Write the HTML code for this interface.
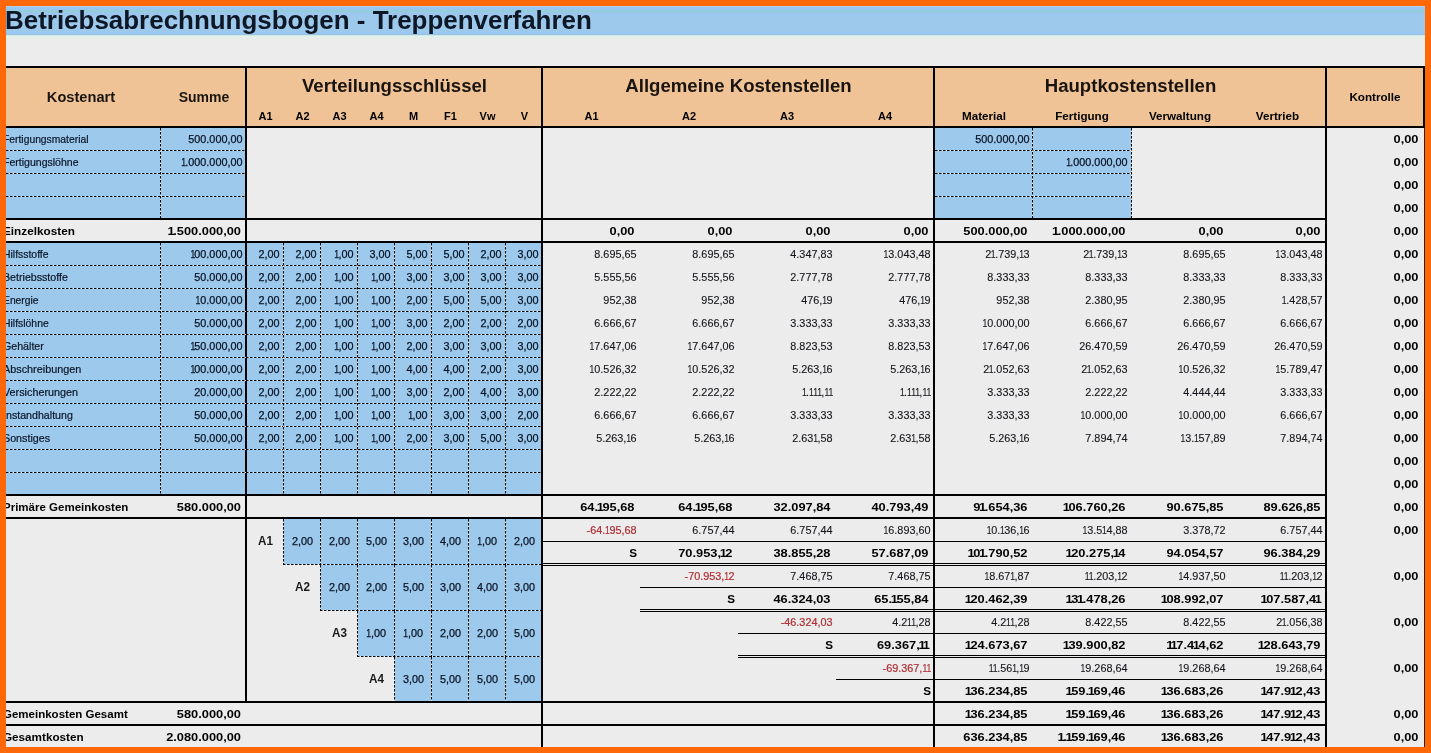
<!DOCTYPE html>
<html><head><meta charset="utf-8"><title>Betriebsabrechnungsbogen - Treppenverfahren</title>
<style>
html,body{margin:0;padding:0}
body{width:1431px;height:753px;position:relative;overflow:hidden;background:#ececec;
 font-family:"Liberation Sans",sans-serif;color:#0c0c10}
.L{position:absolute;left:0;top:0;width:1431px;height:753px}
.L div{position:absolute}
.T{will-change:transform}
.hd{height:1px;background:repeating-linear-gradient(90deg,#000 0,#000 2px,#e6f2fb 3px,#e6f2fb 3.6px,#000 4px)}
.vd{width:1px;background:repeating-linear-gradient(180deg,#000 0,#000 2px,#e6f2fb 3px,#e6f2fb 3.6px,#000 4px)}
.t{white-space:nowrap;overflow:visible;font-size:10.6px}
.c{text-align:center;transform-origin:50% 50%}
.r{text-align:right;transform-origin:100% 50%}
.l{text-align:left;transform-origin:0 50%}
.n{color:#0b1426;-webkit-text-stroke:.25px #0b1426;transform:scaleX(1.0222)}
.n i{font-style:normal;display:inline-block;transform:scaleX(.8);margin:0 -1.15px 0 -.75px}
.lab{transform:scaleX(.97);color:#0b1426;-webkit-text-stroke:.2px #0b1426}
.bn{font-weight:bold;transform:scaleX(1.2100);color:#000}
.bn i{font-style:normal;margin:0 -1.2px 0 -1.1px}
.bt{font-weight:bold;transform:scaleX(1.1000);color:#000}
.bl{font-weight:bold;transform:scaleX(1.055);color:#000}
.bk{font-weight:bold;color:#000;transform:scaleX(1.0377)}
.g{color:#15161b;-webkit-text-stroke:.12px #15161b}
.red{color:#ae2f34;-webkit-text-stroke:.2px #ae2f34}
.h14{font-weight:bold;font-size:14px;color:#1a1410}
.h18{font-weight:bold;font-size:18px;color:#1a1410;transform:scaleX(1.033)}
.h12{font-weight:bold;font-size:12.3px;color:#1a1a1a;transform:scaleX(.95)}
.title{left:5px;top:6.5px;height:29px;line-height:27px;font-size:26px;font-weight:bold;color:#0e1726;white-space:nowrap;
 transform-origin:0 50%;transform:scaleX(.998)}
</style></head>
<body>
<div class="L">
<div style="left:6px;top:6px;width:1419px;height:29px;background:#9cc9ec;background:linear-gradient(180deg,#d6d8d4 0,#98c7f6 1px,#98c7f6 3.5px,#92cdda 4.2px,#92cdda 6px,#9ec5f0 7px,#9dc7ee 9px,#9cc9ec 11px,#9cc9ec 25.5px,#99c7f3 26.5px,#99c7f3 27.5px,#9dc4dd 28.5px,#9dc4dd 29px)"></div>
<div style="left:6px;top:35px;width:1419px;height:5px;background:#ececec;background:linear-gradient(180deg,#c4dde4 0,#e1f2ee 1px,#e3f0ea 2.5px,#e9ece8 4px,#ececec 5px)"></div>
<div style="left:6px;top:68px;width:1418px;height:58px;background:#efc396;"></div>
<div style="left:6px;top:128px;width:239px;height:90px;background:#9cc9ec;"></div>
<div style="left:935px;top:128px;width:197px;height:90px;background:#9cc9ec;"></div>
<div style="left:6px;top:243px;width:535px;height:251px;background:#9cc9ec;"></div>
<div style="left:284px;top:519px;width:257px;height:46px;background:#9cc9ec;"></div>
<div style="left:321px;top:565px;width:220px;height:46px;background:#9cc9ec;"></div>
<div style="left:358px;top:611px;width:183px;height:46px;background:#9cc9ec;"></div>
<div style="left:395px;top:657px;width:146px;height:44px;background:#9cc9ec;"></div>
<div style="left:6px;top:66px;width:1419px;height:2px;background:#000;"></div>
<div style="left:6px;top:126px;width:1419px;height:2px;background:#000;"></div>
<div style="left:1423px;top:66px;width:2px;height:62px;background:#000;"></div>
<div style="left:245px;top:66px;width:2px;height:637px;background:#000;"></div>
<div style="left:541px;top:66px;width:2px;height:681px;background:#000;"></div>
<div style="left:933px;top:66px;width:2px;height:681px;background:#000;"></div>
<div style="left:1325px;top:66px;width:2px;height:681px;background:#000;"></div>
<div style="left:6px;top:218px;width:1321px;height:2px;background:#000;"></div>
<div style="left:6px;top:241px;width:1321px;height:2px;background:#000;"></div>
<div style="left:6px;top:494px;width:1321px;height:2px;background:#000;"></div>
<div style="left:6px;top:517px;width:1321px;height:2px;background:#000;"></div>
<div style="left:6px;top:701px;width:1321px;height:2px;background:#000;"></div>
<div style="left:6px;top:724px;width:1321px;height:2px;background:#000;"></div>
<div class="hd" style="left:6px;top:150px;width:239px"></div>
<div class="hd" style="left:935px;top:150px;width:197px"></div>
<div class="hd" style="left:6px;top:173px;width:239px"></div>
<div class="hd" style="left:935px;top:173px;width:197px"></div>
<div class="hd" style="left:6px;top:196px;width:239px"></div>
<div class="hd" style="left:935px;top:196px;width:197px"></div>
<div class="vd" style="left:160px;top:128px;height:90px"></div>
<div class="vd" style="left:1032px;top:128px;height:90px"></div>
<div class="vd" style="left:1131px;top:128px;height:90px"></div>
<div class="hd" style="left:6px;top:265px;width:535px"></div>
<div class="hd" style="left:6px;top:288px;width:535px"></div>
<div class="hd" style="left:6px;top:311px;width:535px"></div>
<div class="hd" style="left:6px;top:334px;width:535px"></div>
<div class="hd" style="left:6px;top:357px;width:535px"></div>
<div class="hd" style="left:6px;top:380px;width:535px"></div>
<div class="hd" style="left:6px;top:403px;width:535px"></div>
<div class="hd" style="left:6px;top:426px;width:535px"></div>
<div class="hd" style="left:6px;top:449px;width:535px"></div>
<div class="hd" style="left:6px;top:472px;width:535px"></div>
<div class="vd" style="left:160px;top:243px;height:251px"></div>
<div class="vd" style="left:283px;top:243px;height:251px"></div>
<div class="vd" style="left:320px;top:243px;height:251px"></div>
<div class="vd" style="left:357px;top:243px;height:251px"></div>
<div class="vd" style="left:394px;top:243px;height:251px"></div>
<div class="vd" style="left:431px;top:243px;height:251px"></div>
<div class="vd" style="left:468px;top:243px;height:251px"></div>
<div class="vd" style="left:505px;top:243px;height:251px"></div>
<div class="hd" style="left:283px;top:564px;width:258px"></div>
<div class="vd" style="left:283px;top:519px;height:46px"></div>
<div class="vd" style="left:320px;top:519px;height:46px"></div>
<div class="vd" style="left:357px;top:519px;height:46px"></div>
<div class="vd" style="left:394px;top:519px;height:46px"></div>
<div class="vd" style="left:431px;top:519px;height:46px"></div>
<div class="vd" style="left:468px;top:519px;height:46px"></div>
<div class="vd" style="left:505px;top:519px;height:46px"></div>
<div class="hd" style="left:320px;top:610px;width:221px"></div>
<div class="vd" style="left:320px;top:565px;height:46px"></div>
<div class="vd" style="left:357px;top:565px;height:46px"></div>
<div class="vd" style="left:394px;top:565px;height:46px"></div>
<div class="vd" style="left:431px;top:565px;height:46px"></div>
<div class="vd" style="left:468px;top:565px;height:46px"></div>
<div class="vd" style="left:505px;top:565px;height:46px"></div>
<div class="hd" style="left:357px;top:656px;width:184px"></div>
<div class="vd" style="left:357px;top:611px;height:46px"></div>
<div class="vd" style="left:394px;top:611px;height:46px"></div>
<div class="vd" style="left:431px;top:611px;height:46px"></div>
<div class="vd" style="left:468px;top:611px;height:46px"></div>
<div class="vd" style="left:505px;top:611px;height:46px"></div>
<div class="vd" style="left:394px;top:657px;height:44px"></div>
<div class="vd" style="left:431px;top:657px;height:44px"></div>
<div class="vd" style="left:468px;top:657px;height:44px"></div>
<div class="vd" style="left:505px;top:657px;height:44px"></div>
<div style="left:543px;top:541px;width:782px;height:1px;background:#000;"></div>
<div style="left:543px;top:563px;width:782px;height:1px;background:#000;"></div>
<div style="left:543px;top:565px;width:782px;height:1px;background:#000;"></div>
<div style="left:640px;top:587px;width:685px;height:1px;background:#000;"></div>
<div style="left:640px;top:609px;width:685px;height:1px;background:#000;"></div>
<div style="left:640px;top:611px;width:685px;height:1px;background:#000;"></div>
<div style="left:738px;top:633px;width:587px;height:1px;background:#000;"></div>
<div style="left:738px;top:655px;width:587px;height:1px;background:#000;"></div>
<div style="left:738px;top:657px;width:587px;height:1px;background:#000;"></div>
<div style="left:836px;top:679px;width:489px;height:1px;background:#000;"></div>
<div style="left:1424px;top:128px;width:1px;height:620px;background:#3a1c0a;"></div>
</div>
<div class="L T">
<div class="title">Betriebsabrechnungsbogen - Treppenverfahren</div>
<div class="t h14 c" style="left:4px;top:86px;width:154px;height:22px;line-height:22px;transform:scaleX(1.045)">Kostenart</div>
<div class="t h14 c" style="left:162px;top:86px;width:84px;height:22px;line-height:22px;">Summe</div>
<div class="t h18 c" style="left:247px;top:74px;width:295px;height:24px;line-height:24px;">Verteilungsschlüssel</div>
<div class="t h18 c" style="left:543px;top:74px;width:391px;height:24px;line-height:24px;">Allgemeine Kostenstellen</div>
<div class="t h18 c" style="left:935px;top:74px;width:391px;height:24px;line-height:24px;">Hauptkostenstellen</div>
<div class="t bt c" style="left:1327px;top:86px;width:96px;height:22px;line-height:22px;">Kontrolle</div>
<div class="t bk c" style="left:246.5px;top:105px;width:37px;height:22px;line-height:22px;">A1</div>
<div class="t bk c" style="left:283.5px;top:105px;width:37px;height:22px;line-height:22px;">A2</div>
<div class="t bk c" style="left:320.5px;top:105px;width:37px;height:22px;line-height:22px;">A3</div>
<div class="t bk c" style="left:357.5px;top:105px;width:37px;height:22px;line-height:22px;">A4</div>
<div class="t bk c" style="left:394.5px;top:105px;width:37px;height:22px;line-height:22px;">M</div>
<div class="t bk c" style="left:431.5px;top:105px;width:37px;height:22px;line-height:22px;">F1</div>
<div class="t bk c" style="left:468.5px;top:105px;width:37px;height:22px;line-height:22px;">Vw</div>
<div class="t bk c" style="left:505.5px;top:105px;width:37px;height:22px;line-height:22px;">V</div>
<div class="t bk c" style="left:543px;top:105px;width:97px;height:22px;line-height:22px;">A1</div>
<div class="t bk c" style="left:640px;top:105px;width:98px;height:22px;line-height:22px;">A2</div>
<div class="t bk c" style="left:738px;top:105px;width:98px;height:22px;line-height:22px;">A3</div>
<div class="t bk c" style="left:836px;top:105px;width:98px;height:22px;line-height:22px;">A4</div>
<div class="t bt c" style="left:935px;top:105px;width:98px;height:22px;line-height:22px;">Material</div>
<div class="t bt c" style="left:1033px;top:105px;width:98px;height:22px;line-height:22px;">Fertigung</div>
<div class="t bt c" style="left:1131px;top:105px;width:98px;height:22px;line-height:22px;">Verwaltung</div>
<div class="t bt c" style="left:1229px;top:105px;width:97px;height:22px;line-height:22px;">Vertrieb</div>
<div class="t lab l" style="left:3px;top:128px;width:240px;height:23px;line-height:23px;transform:scaleX(0.9744)">Fertigungsmaterial</div>
<div class="t n r" style="left:100px;top:128px;width:142.5px;height:23px;line-height:23px;">500.000,00</div>
<div class="t n r" style="left:915px;top:128px;width:114.5px;height:23px;line-height:23px;">500.000,00</div>
<div class="t lab l" style="left:3px;top:151px;width:240px;height:23px;line-height:23px;transform:scaleX(0.9942)">Fertigungslöhne</div>
<div class="t n r" style="left:100px;top:151px;width:142.5px;height:23px;line-height:23px;"><i>1</i>.000.000,00</div>
<div class="t n r" style="left:1013px;top:151px;width:114.5px;height:23px;line-height:23px;"><i>1</i>.000.000,00</div>
<div class="t bl l" style="left:2.5px;top:220px;width:240px;height:23px;line-height:23px;transform:scaleX(1.1104)">Einzelkosten</div>
<div class="t bn r" style="left:100px;top:220px;width:141px;height:23px;line-height:23px;"><i>1</i>.500.000,00</div>
<div class="t bn r" style="left:523px;top:220px;width:111.5px;height:23px;line-height:23px;">0,00</div>
<div class="t bn r" style="left:620px;top:220px;width:112.5px;height:23px;line-height:23px;">0,00</div>
<div class="t bn r" style="left:718px;top:220px;width:112.5px;height:23px;line-height:23px;">0,00</div>
<div class="t bn r" style="left:816px;top:220px;width:112.5px;height:23px;line-height:23px;">0,00</div>
<div class="t bn r" style="left:915px;top:220px;width:112.5px;height:23px;line-height:23px;">500.000,00</div>
<div class="t bn r" style="left:1013px;top:220px;width:112.5px;height:23px;line-height:23px;"><i>1</i>.000.000,00</div>
<div class="t bn r" style="left:1111px;top:220px;width:112.5px;height:23px;line-height:23px;">0,00</div>
<div class="t bn r" style="left:1209px;top:220px;width:111.5px;height:23px;line-height:23px;">0,00</div>
<div class="t lab l" style="left:3px;top:243px;width:240px;height:23px;line-height:23px;transform:scaleX(0.9827)">Hilfsstoffe</div>
<div class="t n r" style="left:100px;top:243px;width:142.5px;height:23px;line-height:23px;"><i>1</i>00.000,00</div>
<div class="t n r" style="left:237px;top:243px;width:42.5px;height:23px;line-height:23px;">2,00</div>
<div class="t n r" style="left:274px;top:243px;width:42.5px;height:23px;line-height:23px;">2,00</div>
<div class="t n r" style="left:311px;top:243px;width:42.5px;height:23px;line-height:23px;"><i>1</i>,00</div>
<div class="t n r" style="left:348px;top:243px;width:42.5px;height:23px;line-height:23px;">3,00</div>
<div class="t n r" style="left:385px;top:243px;width:42.5px;height:23px;line-height:23px;">5,00</div>
<div class="t n r" style="left:422px;top:243px;width:42.5px;height:23px;line-height:23px;">5,00</div>
<div class="t n r" style="left:459px;top:243px;width:42.5px;height:23px;line-height:23px;">2,00</div>
<div class="t n r" style="left:496px;top:243px;width:42.5px;height:23px;line-height:23px;">3,00</div>
<div class="t n r g" style="left:523px;top:243px;width:113.5px;height:23px;line-height:23px;">8.695,65</div>
<div class="t n r g" style="left:620px;top:243px;width:114.5px;height:23px;line-height:23px;">8.695,65</div>
<div class="t n r g" style="left:718px;top:243px;width:114.5px;height:23px;line-height:23px;">4.347,83</div>
<div class="t n r g" style="left:816px;top:243px;width:114.5px;height:23px;line-height:23px;"><i>1</i>3.043,48</div>
<div class="t n r g" style="left:915px;top:243px;width:114.5px;height:23px;line-height:23px;">2<i>1</i>.739,<i>1</i>3</div>
<div class="t n r g" style="left:1013px;top:243px;width:114.5px;height:23px;line-height:23px;">2<i>1</i>.739,<i>1</i>3</div>
<div class="t n r g" style="left:1111px;top:243px;width:114.5px;height:23px;line-height:23px;">8.695,65</div>
<div class="t n r g" style="left:1209px;top:243px;width:113.5px;height:23px;line-height:23px;"><i>1</i>3.043,48</div>
<div class="t lab l" style="left:3px;top:266px;width:240px;height:23px;line-height:23px;transform:scaleX(1.0045)">Betriebsstoffe</div>
<div class="t n r" style="left:100px;top:266px;width:142.5px;height:23px;line-height:23px;">50.000,00</div>
<div class="t n r" style="left:237px;top:266px;width:42.5px;height:23px;line-height:23px;">2,00</div>
<div class="t n r" style="left:274px;top:266px;width:42.5px;height:23px;line-height:23px;">2,00</div>
<div class="t n r" style="left:311px;top:266px;width:42.5px;height:23px;line-height:23px;"><i>1</i>,00</div>
<div class="t n r" style="left:348px;top:266px;width:42.5px;height:23px;line-height:23px;"><i>1</i>,00</div>
<div class="t n r" style="left:385px;top:266px;width:42.5px;height:23px;line-height:23px;">3,00</div>
<div class="t n r" style="left:422px;top:266px;width:42.5px;height:23px;line-height:23px;">3,00</div>
<div class="t n r" style="left:459px;top:266px;width:42.5px;height:23px;line-height:23px;">3,00</div>
<div class="t n r" style="left:496px;top:266px;width:42.5px;height:23px;line-height:23px;">3,00</div>
<div class="t n r g" style="left:523px;top:266px;width:113.5px;height:23px;line-height:23px;">5.555,56</div>
<div class="t n r g" style="left:620px;top:266px;width:114.5px;height:23px;line-height:23px;">5.555,56</div>
<div class="t n r g" style="left:718px;top:266px;width:114.5px;height:23px;line-height:23px;">2.777,78</div>
<div class="t n r g" style="left:816px;top:266px;width:114.5px;height:23px;line-height:23px;">2.777,78</div>
<div class="t n r g" style="left:915px;top:266px;width:114.5px;height:23px;line-height:23px;">8.333,33</div>
<div class="t n r g" style="left:1013px;top:266px;width:114.5px;height:23px;line-height:23px;">8.333,33</div>
<div class="t n r g" style="left:1111px;top:266px;width:114.5px;height:23px;line-height:23px;">8.333,33</div>
<div class="t n r g" style="left:1209px;top:266px;width:113.5px;height:23px;line-height:23px;">8.333,33</div>
<div class="t lab l" style="left:3px;top:289px;width:240px;height:23px;line-height:23px;transform:scaleX(0.9734)">Energie</div>
<div class="t n r" style="left:100px;top:289px;width:142.5px;height:23px;line-height:23px;"><i>1</i>0.000,00</div>
<div class="t n r" style="left:237px;top:289px;width:42.5px;height:23px;line-height:23px;">2,00</div>
<div class="t n r" style="left:274px;top:289px;width:42.5px;height:23px;line-height:23px;">2,00</div>
<div class="t n r" style="left:311px;top:289px;width:42.5px;height:23px;line-height:23px;"><i>1</i>,00</div>
<div class="t n r" style="left:348px;top:289px;width:42.5px;height:23px;line-height:23px;"><i>1</i>,00</div>
<div class="t n r" style="left:385px;top:289px;width:42.5px;height:23px;line-height:23px;">2,00</div>
<div class="t n r" style="left:422px;top:289px;width:42.5px;height:23px;line-height:23px;">5,00</div>
<div class="t n r" style="left:459px;top:289px;width:42.5px;height:23px;line-height:23px;">5,00</div>
<div class="t n r" style="left:496px;top:289px;width:42.5px;height:23px;line-height:23px;">3,00</div>
<div class="t n r g" style="left:523px;top:289px;width:113.5px;height:23px;line-height:23px;">952,38</div>
<div class="t n r g" style="left:620px;top:289px;width:114.5px;height:23px;line-height:23px;">952,38</div>
<div class="t n r g" style="left:718px;top:289px;width:114.5px;height:23px;line-height:23px;">476,<i>1</i>9</div>
<div class="t n r g" style="left:816px;top:289px;width:114.5px;height:23px;line-height:23px;">476,<i>1</i>9</div>
<div class="t n r g" style="left:915px;top:289px;width:114.5px;height:23px;line-height:23px;">952,38</div>
<div class="t n r g" style="left:1013px;top:289px;width:114.5px;height:23px;line-height:23px;">2.380,95</div>
<div class="t n r g" style="left:1111px;top:289px;width:114.5px;height:23px;line-height:23px;">2.380,95</div>
<div class="t n r g" style="left:1209px;top:289px;width:113.5px;height:23px;line-height:23px;"><i>1</i>.428,57</div>
<div class="t lab l" style="left:3px;top:312px;width:240px;height:23px;line-height:23px;transform:scaleX(0.9827)">Hilfslöhne</div>
<div class="t n r" style="left:100px;top:312px;width:142.5px;height:23px;line-height:23px;">50.000,00</div>
<div class="t n r" style="left:237px;top:312px;width:42.5px;height:23px;line-height:23px;">2,00</div>
<div class="t n r" style="left:274px;top:312px;width:42.5px;height:23px;line-height:23px;">2,00</div>
<div class="t n r" style="left:311px;top:312px;width:42.5px;height:23px;line-height:23px;"><i>1</i>,00</div>
<div class="t n r" style="left:348px;top:312px;width:42.5px;height:23px;line-height:23px;"><i>1</i>,00</div>
<div class="t n r" style="left:385px;top:312px;width:42.5px;height:23px;line-height:23px;">3,00</div>
<div class="t n r" style="left:422px;top:312px;width:42.5px;height:23px;line-height:23px;">2,00</div>
<div class="t n r" style="left:459px;top:312px;width:42.5px;height:23px;line-height:23px;">2,00</div>
<div class="t n r" style="left:496px;top:312px;width:42.5px;height:23px;line-height:23px;">2,00</div>
<div class="t n r g" style="left:523px;top:312px;width:113.5px;height:23px;line-height:23px;">6.666,67</div>
<div class="t n r g" style="left:620px;top:312px;width:114.5px;height:23px;line-height:23px;">6.666,67</div>
<div class="t n r g" style="left:718px;top:312px;width:114.5px;height:23px;line-height:23px;">3.333,33</div>
<div class="t n r g" style="left:816px;top:312px;width:114.5px;height:23px;line-height:23px;">3.333,33</div>
<div class="t n r g" style="left:915px;top:312px;width:114.5px;height:23px;line-height:23px;"><i>1</i>0.000,00</div>
<div class="t n r g" style="left:1013px;top:312px;width:114.5px;height:23px;line-height:23px;">6.666,67</div>
<div class="t n r g" style="left:1111px;top:312px;width:114.5px;height:23px;line-height:23px;">6.666,67</div>
<div class="t n r g" style="left:1209px;top:312px;width:113.5px;height:23px;line-height:23px;">6.666,67</div>
<div class="t lab l" style="left:3px;top:335px;width:240px;height:23px;line-height:23px;transform:scaleX(1.0045)">Gehälter</div>
<div class="t n r" style="left:100px;top:335px;width:142.5px;height:23px;line-height:23px;"><i>1</i>50.000,00</div>
<div class="t n r" style="left:237px;top:335px;width:42.5px;height:23px;line-height:23px;">2,00</div>
<div class="t n r" style="left:274px;top:335px;width:42.5px;height:23px;line-height:23px;">2,00</div>
<div class="t n r" style="left:311px;top:335px;width:42.5px;height:23px;line-height:23px;"><i>1</i>,00</div>
<div class="t n r" style="left:348px;top:335px;width:42.5px;height:23px;line-height:23px;"><i>1</i>,00</div>
<div class="t n r" style="left:385px;top:335px;width:42.5px;height:23px;line-height:23px;">2,00</div>
<div class="t n r" style="left:422px;top:335px;width:42.5px;height:23px;line-height:23px;">3,00</div>
<div class="t n r" style="left:459px;top:335px;width:42.5px;height:23px;line-height:23px;">3,00</div>
<div class="t n r" style="left:496px;top:335px;width:42.5px;height:23px;line-height:23px;">3,00</div>
<div class="t n r g" style="left:523px;top:335px;width:113.5px;height:23px;line-height:23px;"><i>1</i>7.647,06</div>
<div class="t n r g" style="left:620px;top:335px;width:114.5px;height:23px;line-height:23px;"><i>1</i>7.647,06</div>
<div class="t n r g" style="left:718px;top:335px;width:114.5px;height:23px;line-height:23px;">8.823,53</div>
<div class="t n r g" style="left:816px;top:335px;width:114.5px;height:23px;line-height:23px;">8.823,53</div>
<div class="t n r g" style="left:915px;top:335px;width:114.5px;height:23px;line-height:23px;"><i>1</i>7.647,06</div>
<div class="t n r g" style="left:1013px;top:335px;width:114.5px;height:23px;line-height:23px;">26.470,59</div>
<div class="t n r g" style="left:1111px;top:335px;width:114.5px;height:23px;line-height:23px;">26.470,59</div>
<div class="t n r g" style="left:1209px;top:335px;width:113.5px;height:23px;line-height:23px;">26.470,59</div>
<div class="t lab l" style="left:3px;top:358px;width:240px;height:23px;line-height:23px;transform:scaleX(1.0222)">Abschreibungen</div>
<div class="t n r" style="left:100px;top:358px;width:142.5px;height:23px;line-height:23px;"><i>1</i>00.000,00</div>
<div class="t n r" style="left:237px;top:358px;width:42.5px;height:23px;line-height:23px;">2,00</div>
<div class="t n r" style="left:274px;top:358px;width:42.5px;height:23px;line-height:23px;">2,00</div>
<div class="t n r" style="left:311px;top:358px;width:42.5px;height:23px;line-height:23px;"><i>1</i>,00</div>
<div class="t n r" style="left:348px;top:358px;width:42.5px;height:23px;line-height:23px;"><i>1</i>,00</div>
<div class="t n r" style="left:385px;top:358px;width:42.5px;height:23px;line-height:23px;">4,00</div>
<div class="t n r" style="left:422px;top:358px;width:42.5px;height:23px;line-height:23px;">4,00</div>
<div class="t n r" style="left:459px;top:358px;width:42.5px;height:23px;line-height:23px;">2,00</div>
<div class="t n r" style="left:496px;top:358px;width:42.5px;height:23px;line-height:23px;">3,00</div>
<div class="t n r g" style="left:523px;top:358px;width:113.5px;height:23px;line-height:23px;"><i>1</i>0.526,32</div>
<div class="t n r g" style="left:620px;top:358px;width:114.5px;height:23px;line-height:23px;"><i>1</i>0.526,32</div>
<div class="t n r g" style="left:718px;top:358px;width:114.5px;height:23px;line-height:23px;">5.263,<i>1</i>6</div>
<div class="t n r g" style="left:816px;top:358px;width:114.5px;height:23px;line-height:23px;">5.263,<i>1</i>6</div>
<div class="t n r g" style="left:915px;top:358px;width:114.5px;height:23px;line-height:23px;">2<i>1</i>.052,63</div>
<div class="t n r g" style="left:1013px;top:358px;width:114.5px;height:23px;line-height:23px;">2<i>1</i>.052,63</div>
<div class="t n r g" style="left:1111px;top:358px;width:114.5px;height:23px;line-height:23px;"><i>1</i>0.526,32</div>
<div class="t n r g" style="left:1209px;top:358px;width:113.5px;height:23px;line-height:23px;"><i>1</i>5.789,47</div>
<div class="t lab l" style="left:3px;top:381px;width:240px;height:23px;line-height:23px;transform:scaleX(1.0191)">Versicherungen</div>
<div class="t n r" style="left:100px;top:381px;width:142.5px;height:23px;line-height:23px;">20.000,00</div>
<div class="t n r" style="left:237px;top:381px;width:42.5px;height:23px;line-height:23px;">2,00</div>
<div class="t n r" style="left:274px;top:381px;width:42.5px;height:23px;line-height:23px;">2,00</div>
<div class="t n r" style="left:311px;top:381px;width:42.5px;height:23px;line-height:23px;"><i>1</i>,00</div>
<div class="t n r" style="left:348px;top:381px;width:42.5px;height:23px;line-height:23px;"><i>1</i>,00</div>
<div class="t n r" style="left:385px;top:381px;width:42.5px;height:23px;line-height:23px;">3,00</div>
<div class="t n r" style="left:422px;top:381px;width:42.5px;height:23px;line-height:23px;">2,00</div>
<div class="t n r" style="left:459px;top:381px;width:42.5px;height:23px;line-height:23px;">4,00</div>
<div class="t n r" style="left:496px;top:381px;width:42.5px;height:23px;line-height:23px;">3,00</div>
<div class="t n r g" style="left:523px;top:381px;width:113.5px;height:23px;line-height:23px;">2.222,22</div>
<div class="t n r g" style="left:620px;top:381px;width:114.5px;height:23px;line-height:23px;">2.222,22</div>
<div class="t n r g" style="left:718px;top:381px;width:114.5px;height:23px;line-height:23px;"><i>1</i>.<i>1</i><i>1</i><i>1</i>,<i>1</i><i>1</i></div>
<div class="t n r g" style="left:816px;top:381px;width:114.5px;height:23px;line-height:23px;"><i>1</i>.<i>1</i><i>1</i><i>1</i>,<i>1</i><i>1</i></div>
<div class="t n r g" style="left:915px;top:381px;width:114.5px;height:23px;line-height:23px;">3.333,33</div>
<div class="t n r g" style="left:1013px;top:381px;width:114.5px;height:23px;line-height:23px;">2.222,22</div>
<div class="t n r g" style="left:1111px;top:381px;width:114.5px;height:23px;line-height:23px;">4.444,44</div>
<div class="t n r g" style="left:1209px;top:381px;width:113.5px;height:23px;line-height:23px;">3.333,33</div>
<div class="t lab l" style="left:3px;top:404px;width:240px;height:23px;line-height:23px;transform:scaleX(1.0056)">Instandhaltung</div>
<div class="t n r" style="left:100px;top:404px;width:142.5px;height:23px;line-height:23px;">50.000,00</div>
<div class="t n r" style="left:237px;top:404px;width:42.5px;height:23px;line-height:23px;">2,00</div>
<div class="t n r" style="left:274px;top:404px;width:42.5px;height:23px;line-height:23px;">2,00</div>
<div class="t n r" style="left:311px;top:404px;width:42.5px;height:23px;line-height:23px;"><i>1</i>,00</div>
<div class="t n r" style="left:348px;top:404px;width:42.5px;height:23px;line-height:23px;"><i>1</i>,00</div>
<div class="t n r" style="left:385px;top:404px;width:42.5px;height:23px;line-height:23px;"><i>1</i>,00</div>
<div class="t n r" style="left:422px;top:404px;width:42.5px;height:23px;line-height:23px;">3,00</div>
<div class="t n r" style="left:459px;top:404px;width:42.5px;height:23px;line-height:23px;">3,00</div>
<div class="t n r" style="left:496px;top:404px;width:42.5px;height:23px;line-height:23px;">2,00</div>
<div class="t n r g" style="left:523px;top:404px;width:113.5px;height:23px;line-height:23px;">6.666,67</div>
<div class="t n r g" style="left:620px;top:404px;width:114.5px;height:23px;line-height:23px;">6.666,67</div>
<div class="t n r g" style="left:718px;top:404px;width:114.5px;height:23px;line-height:23px;">3.333,33</div>
<div class="t n r g" style="left:816px;top:404px;width:114.5px;height:23px;line-height:23px;">3.333,33</div>
<div class="t n r g" style="left:915px;top:404px;width:114.5px;height:23px;line-height:23px;">3.333,33</div>
<div class="t n r g" style="left:1013px;top:404px;width:114.5px;height:23px;line-height:23px;"><i>1</i>0.000,00</div>
<div class="t n r g" style="left:1111px;top:404px;width:114.5px;height:23px;line-height:23px;"><i>1</i>0.000,00</div>
<div class="t n r g" style="left:1209px;top:404px;width:113.5px;height:23px;line-height:23px;">6.666,67</div>
<div class="t lab l" style="left:3px;top:427px;width:240px;height:23px;line-height:23px;transform:scaleX(1.0108)">Sonstiges</div>
<div class="t n r" style="left:100px;top:427px;width:142.5px;height:23px;line-height:23px;">50.000,00</div>
<div class="t n r" style="left:237px;top:427px;width:42.5px;height:23px;line-height:23px;">2,00</div>
<div class="t n r" style="left:274px;top:427px;width:42.5px;height:23px;line-height:23px;">2,00</div>
<div class="t n r" style="left:311px;top:427px;width:42.5px;height:23px;line-height:23px;"><i>1</i>,00</div>
<div class="t n r" style="left:348px;top:427px;width:42.5px;height:23px;line-height:23px;"><i>1</i>,00</div>
<div class="t n r" style="left:385px;top:427px;width:42.5px;height:23px;line-height:23px;">2,00</div>
<div class="t n r" style="left:422px;top:427px;width:42.5px;height:23px;line-height:23px;">3,00</div>
<div class="t n r" style="left:459px;top:427px;width:42.5px;height:23px;line-height:23px;">5,00</div>
<div class="t n r" style="left:496px;top:427px;width:42.5px;height:23px;line-height:23px;">3,00</div>
<div class="t n r g" style="left:523px;top:427px;width:113.5px;height:23px;line-height:23px;">5.263,<i>1</i>6</div>
<div class="t n r g" style="left:620px;top:427px;width:114.5px;height:23px;line-height:23px;">5.263,<i>1</i>6</div>
<div class="t n r g" style="left:718px;top:427px;width:114.5px;height:23px;line-height:23px;">2.63<i>1</i>,58</div>
<div class="t n r g" style="left:816px;top:427px;width:114.5px;height:23px;line-height:23px;">2.63<i>1</i>,58</div>
<div class="t n r g" style="left:915px;top:427px;width:114.5px;height:23px;line-height:23px;">5.263,<i>1</i>6</div>
<div class="t n r g" style="left:1013px;top:427px;width:114.5px;height:23px;line-height:23px;">7.894,74</div>
<div class="t n r g" style="left:1111px;top:427px;width:114.5px;height:23px;line-height:23px;"><i>1</i>3.<i>1</i>57,89</div>
<div class="t n r g" style="left:1209px;top:427px;width:113.5px;height:23px;line-height:23px;">7.894,74</div>
<div class="t bl l" style="left:2.5px;top:496px;width:240px;height:23px;line-height:23px;transform:scaleX(1.0865)">Primäre Gemeinkosten</div>
<div class="t bn r" style="left:100px;top:496px;width:141px;height:23px;line-height:23px;">580.000,00</div>
<div class="t bn r" style="left:523px;top:496px;width:111.5px;height:23px;line-height:23px;">64.<i>1</i>95,68</div>
<div class="t bn r" style="left:620px;top:496px;width:112.5px;height:23px;line-height:23px;">64.<i>1</i>95,68</div>
<div class="t bn r" style="left:718px;top:496px;width:112.5px;height:23px;line-height:23px;">32.097,84</div>
<div class="t bn r" style="left:816px;top:496px;width:112.5px;height:23px;line-height:23px;">40.793,49</div>
<div class="t bn r" style="left:915px;top:496px;width:112.5px;height:23px;line-height:23px;">9<i>1</i>.654,36</div>
<div class="t bn r" style="left:1013px;top:496px;width:112.5px;height:23px;line-height:23px;"><i>1</i>06.760,26</div>
<div class="t bn r" style="left:1111px;top:496px;width:112.5px;height:23px;line-height:23px;">90.675,85</div>
<div class="t bn r" style="left:1209px;top:496px;width:111.5px;height:23px;line-height:23px;">89.626,85</div>
<div class="t n r red g" style="left:523px;top:519px;width:113.5px;height:23px;line-height:23px;">-64.<i>1</i>95,68</div>
<div class="t n r g" style="left:620px;top:519px;width:114.5px;height:23px;line-height:23px;">6.757,44</div>
<div class="t n r g" style="left:718px;top:519px;width:114.5px;height:23px;line-height:23px;">6.757,44</div>
<div class="t n r g" style="left:816px;top:519px;width:114.5px;height:23px;line-height:23px;"><i>1</i>6.893,60</div>
<div class="t n r g" style="left:915px;top:519px;width:114.5px;height:23px;line-height:23px;"><i>1</i>0.<i>1</i>36,<i>1</i>6</div>
<div class="t n r g" style="left:1013px;top:519px;width:114.5px;height:23px;line-height:23px;"><i>1</i>3.5<i>1</i>4,88</div>
<div class="t n r g" style="left:1111px;top:519px;width:114.5px;height:23px;line-height:23px;">3.378,72</div>
<div class="t n r g" style="left:1209px;top:519px;width:113.5px;height:23px;line-height:23px;">6.757,44</div>
<div class="t bt r" style="left:523px;top:542px;width:114px;height:23px;line-height:23px;">S</div>
<div class="t bn r" style="left:620px;top:542px;width:112.5px;height:23px;line-height:23px;">70.953,<i>1</i>2</div>
<div class="t bn r" style="left:718px;top:542px;width:112.5px;height:23px;line-height:23px;">38.855,28</div>
<div class="t bn r" style="left:816px;top:542px;width:112.5px;height:23px;line-height:23px;">57.687,09</div>
<div class="t bn r" style="left:915px;top:542px;width:112.5px;height:23px;line-height:23px;"><i>1</i>0<i>1</i>.790,52</div>
<div class="t bn r" style="left:1013px;top:542px;width:112.5px;height:23px;line-height:23px;"><i>1</i>20.275,<i>1</i>4</div>
<div class="t bn r" style="left:1111px;top:542px;width:112.5px;height:23px;line-height:23px;">94.054,57</div>
<div class="t bn r" style="left:1209px;top:542px;width:111.5px;height:23px;line-height:23px;">96.384,29</div>
<div class="t n r red g" style="left:620px;top:565px;width:114.5px;height:23px;line-height:23px;">-70.953,<i>1</i>2</div>
<div class="t n r g" style="left:718px;top:565px;width:114.5px;height:23px;line-height:23px;">7.468,75</div>
<div class="t n r g" style="left:816px;top:565px;width:114.5px;height:23px;line-height:23px;">7.468,75</div>
<div class="t n r g" style="left:915px;top:565px;width:114.5px;height:23px;line-height:23px;"><i>1</i>8.67<i>1</i>,87</div>
<div class="t n r g" style="left:1013px;top:565px;width:114.5px;height:23px;line-height:23px;"><i>1</i><i>1</i>.203,<i>1</i>2</div>
<div class="t n r g" style="left:1111px;top:565px;width:114.5px;height:23px;line-height:23px;"><i>1</i>4.937,50</div>
<div class="t n r g" style="left:1209px;top:565px;width:113.5px;height:23px;line-height:23px;"><i>1</i><i>1</i>.203,<i>1</i>2</div>
<div class="t bt r" style="left:620px;top:588px;width:115px;height:23px;line-height:23px;">S</div>
<div class="t bn r" style="left:718px;top:588px;width:112.5px;height:23px;line-height:23px;">46.324,03</div>
<div class="t bn r" style="left:816px;top:588px;width:112.5px;height:23px;line-height:23px;">65.<i>1</i>55,84</div>
<div class="t bn r" style="left:915px;top:588px;width:112.5px;height:23px;line-height:23px;"><i>1</i>20.462,39</div>
<div class="t bn r" style="left:1013px;top:588px;width:112.5px;height:23px;line-height:23px;"><i>1</i>3<i>1</i>.478,26</div>
<div class="t bn r" style="left:1111px;top:588px;width:112.5px;height:23px;line-height:23px;"><i>1</i>08.992,07</div>
<div class="t bn r" style="left:1209px;top:588px;width:111.5px;height:23px;line-height:23px;"><i>1</i>07.587,4<i>1</i></div>
<div class="t n r red g" style="left:718px;top:611px;width:114.5px;height:23px;line-height:23px;">-46.324,03</div>
<div class="t n r g" style="left:816px;top:611px;width:114.5px;height:23px;line-height:23px;">4.2<i>1</i><i>1</i>,28</div>
<div class="t n r g" style="left:915px;top:611px;width:114.5px;height:23px;line-height:23px;">4.2<i>1</i><i>1</i>,28</div>
<div class="t n r g" style="left:1013px;top:611px;width:114.5px;height:23px;line-height:23px;">8.422,55</div>
<div class="t n r g" style="left:1111px;top:611px;width:114.5px;height:23px;line-height:23px;">8.422,55</div>
<div class="t n r g" style="left:1209px;top:611px;width:113.5px;height:23px;line-height:23px;">2<i>1</i>.056,38</div>
<div class="t bt r" style="left:718px;top:634px;width:115px;height:23px;line-height:23px;">S</div>
<div class="t bn r" style="left:816px;top:634px;width:112.5px;height:23px;line-height:23px;">69.367,<i>1</i><i>1</i></div>
<div class="t bn r" style="left:915px;top:634px;width:112.5px;height:23px;line-height:23px;"><i>1</i>24.673,67</div>
<div class="t bn r" style="left:1013px;top:634px;width:112.5px;height:23px;line-height:23px;"><i>1</i>39.900,82</div>
<div class="t bn r" style="left:1111px;top:634px;width:112.5px;height:23px;line-height:23px;"><i>1</i><i>1</i>7.4<i>1</i>4,62</div>
<div class="t bn r" style="left:1209px;top:634px;width:111.5px;height:23px;line-height:23px;"><i>1</i>28.643,79</div>
<div class="t n r red g" style="left:816px;top:657px;width:114.5px;height:23px;line-height:23px;">-69.367,<i>1</i><i>1</i></div>
<div class="t n r g" style="left:915px;top:657px;width:114.5px;height:23px;line-height:23px;"><i>1</i><i>1</i>.56<i>1</i>,<i>1</i>9</div>
<div class="t n r g" style="left:1013px;top:657px;width:114.5px;height:23px;line-height:23px;"><i>1</i>9.268,64</div>
<div class="t n r g" style="left:1111px;top:657px;width:114.5px;height:23px;line-height:23px;"><i>1</i>9.268,64</div>
<div class="t n r g" style="left:1209px;top:657px;width:113.5px;height:23px;line-height:23px;"><i>1</i>9.268,64</div>
<div class="t bt r" style="left:816px;top:680px;width:115px;height:23px;line-height:23px;">S</div>
<div class="t bn r" style="left:915px;top:680px;width:112.5px;height:23px;line-height:23px;"><i>1</i>36.234,85</div>
<div class="t bn r" style="left:1013px;top:680px;width:112.5px;height:23px;line-height:23px;"><i>1</i>59.<i>1</i>69,46</div>
<div class="t bn r" style="left:1111px;top:680px;width:112.5px;height:23px;line-height:23px;"><i>1</i>36.683,26</div>
<div class="t bn r" style="left:1209px;top:680px;width:111.5px;height:23px;line-height:23px;"><i>1</i>47.9<i>1</i>2,43</div>
<div class="t bl l" style="left:2.5px;top:703px;width:240px;height:23px;line-height:23px;transform:scaleX(1.0865)">Gemeinkosten Gesamt</div>
<div class="t bn r" style="left:100px;top:703px;width:141px;height:23px;line-height:23px;">580.000,00</div>
<div class="t bn r" style="left:915px;top:703px;width:112.5px;height:23px;line-height:23px;"><i>1</i>36.234,85</div>
<div class="t bn r" style="left:1013px;top:703px;width:112.5px;height:23px;line-height:23px;"><i>1</i>59.<i>1</i>69,46</div>
<div class="t bn r" style="left:1111px;top:703px;width:112.5px;height:23px;line-height:23px;"><i>1</i>36.683,26</div>
<div class="t bn r" style="left:1209px;top:703px;width:111.5px;height:23px;line-height:23px;"><i>1</i>47.9<i>1</i>2,43</div>
<div class="t bl l" style="left:2.5px;top:726px;width:240px;height:23px;line-height:23px;transform:scaleX(1.1042)">Gesamtkosten</div>
<div class="t bn r" style="left:100px;top:726px;width:141px;height:23px;line-height:23px;">2.080.000,00</div>
<div class="t bn r" style="left:915px;top:726px;width:112.5px;height:23px;line-height:23px;">636.234,85</div>
<div class="t bn r" style="left:1013px;top:726px;width:112.5px;height:23px;line-height:23px;"><i>1</i>.<i>1</i>59.<i>1</i>69,46</div>
<div class="t bn r" style="left:1111px;top:726px;width:112.5px;height:23px;line-height:23px;"><i>1</i>36.683,26</div>
<div class="t bn r" style="left:1209px;top:726px;width:111.5px;height:23px;line-height:23px;"><i>1</i>47.9<i>1</i>2,43</div>
<div class="t bn r" style="left:1340px;top:128px;width:78.5px;height:23px;line-height:23px;">0,00</div>
<div class="t bn r" style="left:1340px;top:151px;width:78.5px;height:23px;line-height:23px;">0,00</div>
<div class="t bn r" style="left:1340px;top:174px;width:78.5px;height:23px;line-height:23px;">0,00</div>
<div class="t bn r" style="left:1340px;top:197px;width:78.5px;height:23px;line-height:23px;">0,00</div>
<div class="t bn r" style="left:1340px;top:220px;width:78.5px;height:23px;line-height:23px;">0,00</div>
<div class="t bn r" style="left:1340px;top:243px;width:78.5px;height:23px;line-height:23px;">0,00</div>
<div class="t bn r" style="left:1340px;top:266px;width:78.5px;height:23px;line-height:23px;">0,00</div>
<div class="t bn r" style="left:1340px;top:289px;width:78.5px;height:23px;line-height:23px;">0,00</div>
<div class="t bn r" style="left:1340px;top:312px;width:78.5px;height:23px;line-height:23px;">0,00</div>
<div class="t bn r" style="left:1340px;top:335px;width:78.5px;height:23px;line-height:23px;">0,00</div>
<div class="t bn r" style="left:1340px;top:358px;width:78.5px;height:23px;line-height:23px;">0,00</div>
<div class="t bn r" style="left:1340px;top:381px;width:78.5px;height:23px;line-height:23px;">0,00</div>
<div class="t bn r" style="left:1340px;top:404px;width:78.5px;height:23px;line-height:23px;">0,00</div>
<div class="t bn r" style="left:1340px;top:427px;width:78.5px;height:23px;line-height:23px;">0,00</div>
<div class="t bn r" style="left:1340px;top:450px;width:78.5px;height:23px;line-height:23px;">0,00</div>
<div class="t bn r" style="left:1340px;top:473px;width:78.5px;height:23px;line-height:23px;">0,00</div>
<div class="t bn r" style="left:1340px;top:496px;width:78.5px;height:23px;line-height:23px;">0,00</div>
<div class="t bn r" style="left:1340px;top:519px;width:78.5px;height:23px;line-height:23px;">0,00</div>
<div class="t bn r" style="left:1340px;top:565px;width:78.5px;height:23px;line-height:23px;">0,00</div>
<div class="t bn r" style="left:1340px;top:611px;width:78.5px;height:23px;line-height:23px;">0,00</div>
<div class="t bn r" style="left:1340px;top:657px;width:78.5px;height:23px;line-height:23px;">0,00</div>
<div class="t bn r" style="left:1340px;top:703px;width:78.5px;height:23px;line-height:23px;">0,00</div>
<div class="t bn r" style="left:1340px;top:726px;width:78.5px;height:23px;line-height:23px;">0,00</div>
<div class="t h12 c" style="left:246.7px;top:518px;width:37px;height:46px;line-height:46px;">A1</div>
<div class="t n c" style="left:283.6px;top:518px;width:37px;height:46px;line-height:46px;">2,00</div>
<div class="t n c" style="left:320.6px;top:518px;width:37px;height:46px;line-height:46px;">2,00</div>
<div class="t n c" style="left:357.6px;top:518px;width:37px;height:46px;line-height:46px;">5,00</div>
<div class="t n c" style="left:394.6px;top:518px;width:37px;height:46px;line-height:46px;">3,00</div>
<div class="t n c" style="left:431.6px;top:518px;width:37px;height:46px;line-height:46px;">4,00</div>
<div class="t n c" style="left:468.6px;top:518px;width:37px;height:46px;line-height:46px;"><i>1</i>,00</div>
<div class="t n c" style="left:505.6px;top:518px;width:37px;height:46px;line-height:46px;">2,00</div>
<div class="t h12 c" style="left:283.7px;top:564px;width:37px;height:46px;line-height:46px;">A2</div>
<div class="t n c" style="left:320.6px;top:564px;width:37px;height:46px;line-height:46px;">2,00</div>
<div class="t n c" style="left:357.6px;top:564px;width:37px;height:46px;line-height:46px;">2,00</div>
<div class="t n c" style="left:394.6px;top:564px;width:37px;height:46px;line-height:46px;">5,00</div>
<div class="t n c" style="left:431.6px;top:564px;width:37px;height:46px;line-height:46px;">3,00</div>
<div class="t n c" style="left:468.6px;top:564px;width:37px;height:46px;line-height:46px;">4,00</div>
<div class="t n c" style="left:505.6px;top:564px;width:37px;height:46px;line-height:46px;">3,00</div>
<div class="t h12 c" style="left:320.7px;top:610px;width:37px;height:46px;line-height:46px;">A3</div>
<div class="t n c" style="left:357.6px;top:610px;width:37px;height:46px;line-height:46px;"><i>1</i>,00</div>
<div class="t n c" style="left:394.6px;top:610px;width:37px;height:46px;line-height:46px;"><i>1</i>,00</div>
<div class="t n c" style="left:431.6px;top:610px;width:37px;height:46px;line-height:46px;">2,00</div>
<div class="t n c" style="left:468.6px;top:610px;width:37px;height:46px;line-height:46px;">2,00</div>
<div class="t n c" style="left:505.6px;top:610px;width:37px;height:46px;line-height:46px;">5,00</div>
<div class="t h12 c" style="left:357.7px;top:656px;width:37px;height:46px;line-height:46px;">A4</div>
<div class="t n c" style="left:394.6px;top:656px;width:37px;height:46px;line-height:46px;">3,00</div>
<div class="t n c" style="left:431.6px;top:656px;width:37px;height:46px;line-height:46px;">5,00</div>
<div class="t n c" style="left:468.6px;top:656px;width:37px;height:46px;line-height:46px;">5,00</div>
<div class="t n c" style="left:505.6px;top:656px;width:37px;height:46px;line-height:46px;">5,00</div>
</div>
<div class="L">
<div style="left:0px;top:0px;width:1431px;height:6px;background:#ff6808;"></div>
<div style="left:0px;top:747px;width:1431px;height:6px;background:#ff6808;"></div>
<div style="left:0px;top:0px;width:6px;height:753px;background:#ff6808;"></div>
<div style="left:1425px;top:0px;width:6px;height:753px;background:#ff6808;"></div>
</div>
</body></html>
